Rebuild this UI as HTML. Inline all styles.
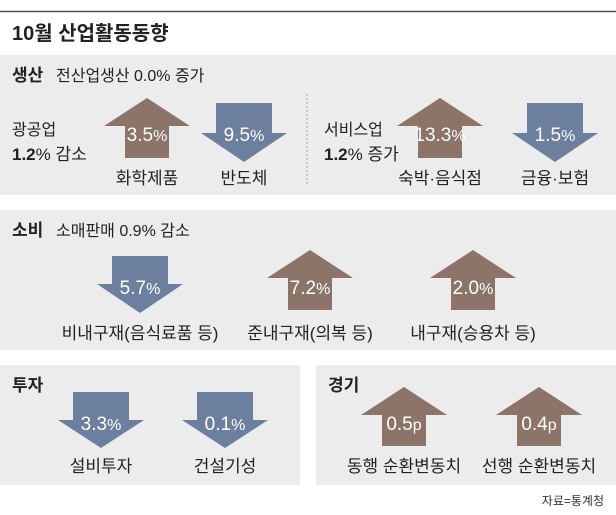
<!DOCTYPE html>
<html><head><meta charset="utf-8"><style>
body{margin:0;background:#fff}
svg{display:block;font-family:"Liberation Sans","Noto Sans CJK KR",sans-serif}
</style></head><body>
<svg width="616" height="515" viewBox="0 0 616 515">
<line x1="0" y1="11.5" x2="616" y2="11.5" stroke="#555" stroke-width="1.5"/>
<text x="12" y="40" font-size="20" font-weight="bold" fill="#222">10월 산업활동동향</text>
<rect x="0" y="55" width="616" height="140" fill="#ececec"/>
<rect x="0" y="210" width="616" height="140" fill="#ececec"/>
<rect x="0" y="365" width="300" height="120" fill="#ececec"/>
<rect x="316" y="365" width="300" height="120" fill="#ececec"/>
<line x1="307" y1="94" x2="307" y2="186" stroke="#aaa" stroke-dasharray="2,2"/>
<g fill="#222">
<text x="12" y="81" font-size="17" font-weight="bold">생산</text>
<text x="56" y="81" font-size="16">전산업생산 0.0% 증가</text>
<text x="12" y="135" font-size="16">광공업</text>
<text x="12" y="160" font-size="17"><tspan font-weight="bold">1.2</tspan>% 감소</text>
<text x="324" y="135" font-size="16">서비스업</text>
<text x="324" y="160" font-size="17"><tspan font-weight="bold">1.2</tspan>% 증가</text>
<text x="12" y="236" font-size="17" font-weight="bold">소비</text>
<text x="56" y="236" font-size="16">소매판매 0.9% 감소</text>
<text x="12" y="391" font-size="17" font-weight="bold">투자</text>
<text x="328" y="391" font-size="17" font-weight="bold">경기</text>
<g font-size="17" text-anchor="middle">
<text x="147" y="184">화학제품</text>
<text x="244" y="184">반도체</text>
<text x="440" y="184">숙박·음식점</text>
<text x="555" y="184">금융·보험</text>
<text x="140" y="339">비내구재(음식료품 등)</text>
<text x="310" y="339">준내구재(의복 등)</text>
<text x="473" y="339">내구재(승용차 등)</text>
<text x="101" y="472">설비투자</text>
<text x="225" y="472">건설기성</text>
<text x="404" y="472">동행 순환변동치</text>
<text x="539" y="472">선행 순환변동치</text>
</g>
<text x="604" y="505" font-size="12" text-anchor="end" fill="#333">자료=통계청</text>
</g>
<g fill="#8c7469">
<polygon points="147,98 190,126 169,126 169,158 125,158 125,126 104,126"/>
<polygon points="440,98 483,126 462,126 462,158 418,158 418,126 397,126"/>
<polygon points="310,250 353,278 332,278 332,310 288,310 288,278 267,278"/>
<polygon points="473,250 516,278 495,278 495,310 451,310 451,278 430,278"/>
<polygon points="404,387 447,415 426,415 426,446 382,446 382,415 361,415"/>
<polygon points="539,387 582,415 561,415 561,446 517,446 517,415 496,415"/>
</g>
<g fill="#6d7f9f">
<polygon points="216,103 272,103 272,133 287,133 244,162 201,133 216,133"/>
<polygon points="527,103 583,103 583,133 598,133 555,162 512,133 527,133"/>
<polygon points="112,256 168,256 168,284 183,284 140,313 97,284 112,284"/>
<polygon points="73,392 129,392 129,420 144,420 101,448 58,420 73,420"/>
<polygon points="197,392 253,392 253,420 268,420 225,448 182,420 197,420"/>
</g>
<g fill="#fff" font-size="19" text-anchor="middle">
<text x="147" y="141">3.5<tspan font-size="16">%</tspan></text>
<text x="244" y="141">9.5<tspan font-size="16">%</tspan></text>
<text x="440" y="141">13.3<tspan font-size="16">%</tspan></text>
<text x="555" y="141">1.5<tspan font-size="16">%</tspan></text>
<text x="140" y="294">5.7<tspan font-size="16">%</tspan></text>
<text x="310" y="294">7.2<tspan font-size="16">%</tspan></text>
<text x="473" y="294">2.0<tspan font-size="16">%</tspan></text>
<text x="101" y="430">3.3<tspan font-size="16">%</tspan></text>
<text x="225" y="430">0.1<tspan font-size="16">%</tspan></text>
<text x="404" y="430">0.5<tspan font-size="16">p</tspan></text>
<text x="539" y="430">0.4<tspan font-size="16">p</tspan></text>
</g>
</svg>
</body></html>
